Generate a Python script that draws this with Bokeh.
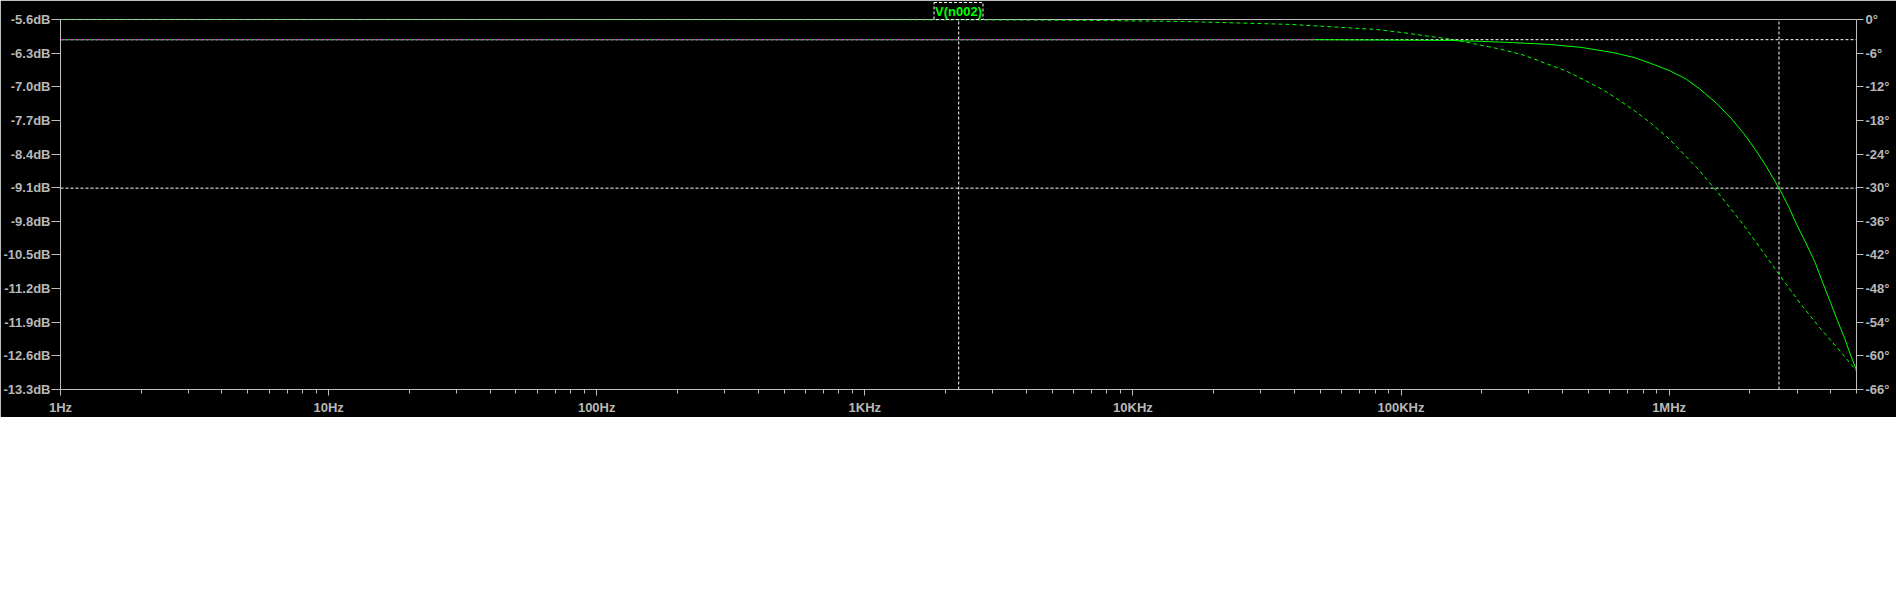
import numpy as np
from bokeh.plotting import figure
from bokeh.models import Range1d, LinearAxis, FixedTicker, PrintfTickFormatter, Title
from bokeh.embed import file_html
from bokeh.resources import INLINE

# ---------------- data ----------------
trace_name = "V(n002)"

freq_mag_hz = [1, 10, 100, 1e3, 1e4, 4.8e4, 1.0e5, 1.5e5, 2.0e5, 2.6e5, 3.6e5, 4.7e5,
               6.2e5, 7.4e5, 8.6e5, 1.0e6, 1.15e6, 1.3e6, 1.5e6, 1.7e6, 1.9e6, 2.1e6,
               2.3e6, 2.57e6, 2.8e6, 3.0e6, 3.25e6, 3.5e6, 3.75e6, 4.0e6, 4.25e6, 4.5e6,
               4.75e6, 5.0e6]
mag_db = [-6.02, -6.02, -6.02, -6.02, -6.02, -6.02, -6.03, -6.035, -6.055, -6.08, -6.12, -6.18,
          -6.29, -6.39, -6.52, -6.66, -6.83, -7.045, -7.34, -7.65, -7.975, -8.31,
          -8.65, -9.11, -9.51, -9.88, -10.27, -10.65, -11.09, -11.49, -11.87, -12.21,
          -12.58, -12.9]

freq_phase_hz = [1, 1e3, 4e3, 6.8e3, 1.53e4, 3.9e4, 8.2e4, 1.026e5, 1.537e5, 1.87e5, 2.36e5,
                 2.88e5, 3.53e5, 4.12e5, 4.81e5, 5.66e5, 6.22e5, 7.33e5, 8.55e5, 9.98e5,
                 1.155e6, 1.27e6, 1.51e6, 1.85e6, 2.23e6, 2.57e6, 3.10e6, 3.68e6, 4.37e6, 5.0e6]
phase_deg = [0, -0.02, -0.09, -0.16, -0.35, -0.88, -1.8, -2.37, -3.54, -4.32, -5.31,
             -6.38, -7.97, -9.16, -10.75, -12.52, -13.76, -16.06, -18.49, -21.25,
             -24.39, -26.46, -30.7, -36.0, -41.3, -45.46, -50.8, -55.2, -59.3, -62.7]

x_ticks_hz = [1, 10, 100, 1000, 10000, 100000, 1000000]
x_tick_labels = ["1Hz", "10Hz", "100Hz", "1KHz", "10KHz", "100KHz", "1MHz"]
db_ticks = [-5.6, -6.3, -7.0, -7.7, -8.4, -9.1, -9.8, -10.5, -11.2, -11.9, -12.6, -13.3]
deg_ticks = [0, -6, -12, -18, -24, -30, -36, -42, -48, -54, -60, -66]

cursor_freq_hz = [2.24e3, 2.57e6]
cursor_db = [-6.02, -9.11]

x_start, x_end = 1, 5e6
y_start, y_end = db_ticks[-1], db_ticks[0]
# minor tick positions (2..9 within each decade)
x_minor_ticks = [m * d for d in x_ticks_hz for m in range(2, 10) if m * d <= x_end]

# ---------------- styling ----------------
GREEN = "#00ff00"
AX = "#c0c0c0"
TXT = "#b8b8b8"
FONT = "Liberation Sans"

p = figure(width=1896, height=417, x_axis_type="log",
           x_range=Range1d(x_start, x_end), y_range=Range1d(y_start, y_end),
           output_backend="svg", toolbar_location=None,
           min_border_left=58, min_border_right=40, min_border_top=18, min_border_bottom=26,
           background_fill_color="black", border_fill_color="black",
           outline_line_color=AX, outline_line_width=1)
p.grid.visible = False
p.extra_y_ranges = {"phase": Range1d(deg_ticks[-1], deg_ticks[0])}

# trace name box at top centre
p.title = Title(text=trace_name, align="center", text_color=GREEN, text_font=FONT,
                text_font_style="bold", text_font_size="13px",
                background_fill_color="black", border_line_color="white",
                border_line_dash="3 2", standoff=0, offset=0, padding=1)

# x axis
xa = p.xaxis[0]
xa.ticker = FixedTicker(ticks=x_ticks_hz, minor_ticks=x_minor_ticks)
xa.major_label_overrides = {t: l for t, l in zip(x_ticks_hz, x_tick_labels)}
xa.major_tick_out = 6
xa.minor_tick_out = 4
xa.major_label_standoff = 4

# left axis
ya = p.yaxis[0]
ya.ticker = FixedTicker(ticks=db_ticks)
ya.formatter = PrintfTickFormatter(format="%.1fdB")
ya.major_tick_out = 9
ya.major_label_standoff = 1

# right axis
ra = LinearAxis(y_range_name="phase", ticker=FixedTicker(ticks=deg_ticks),
                formatter=PrintfTickFormatter(format="%d°"))
ra.major_tick_out = 7
ra.major_label_standoff = 2
p.add_layout(ra, "right")

for ax in (xa, ya, ra):
    ax.axis_line_color = AX
    ax.major_tick_line_color = AX
    ax.minor_tick_line_color = AX
    ax.major_tick_in = 0
    ax.minor_tick_in = 0
    ax.major_label_text_color = TXT
    ax.major_label_text_font = FONT
    ax.major_label_text_font_style = "bold"
    ax.major_label_text_font_size = "13px"
ya.minor_tick_out = 0
ra.minor_tick_out = 0

# cursors (drawn first, under the traces)
n_c = len(cursor_freq_hz)
p.segment(x0=cursor_freq_hz, x1=cursor_freq_hz, y0=[y_start] * n_c, y1=[y_end] * n_c,
          line_color="white", line_dash="3 2", line_width=1)
p.segment(x0=[x_start] * n_c, x1=[x_end] * n_c, y0=cursor_db, y1=cursor_db,
          line_color="white", line_dash="3 2", line_width=1)

# traces
p.line(freq_mag_hz, mag_db, line_color=GREEN, line_width=1)
p.line(freq_phase_hz, phase_deg, y_range_name="phase", line_color=GREEN,
       line_width=1, line_dash="4 3")

# XOR-like overlap of cursor 1 horizontal with the flat magnitude
fm = np.array(freq_mag_hz)
md = np.array(mag_db)
mask = np.abs(md - cursor_db[0]) < 0.005
p.line(fm[mask], md[mask], line_color="#ff00ff", line_width=1, line_dash="3 2")

open("out.html", "w").write(file_html(p, INLINE))
